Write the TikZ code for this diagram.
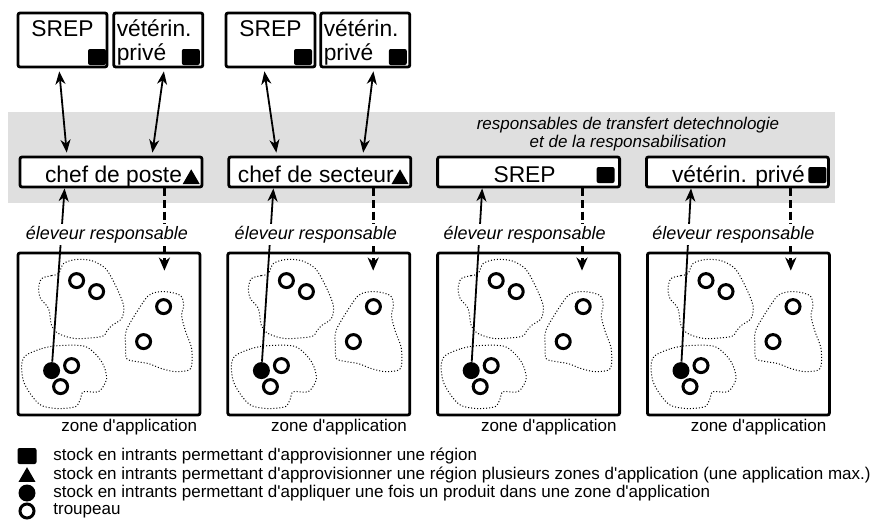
\documentclass[tikz,border=0pt]{standalone}
\usepackage{fontspec}
\setmainfont{Liberation Sans}[Ligatures=TeXOff]
\usepackage{tikz}
\usetikzlibrary{arrows.meta,positioning,shapes.geometric}

\begin{document}
\begin{tikzpicture}[x=0.5pt,y=-0.5pt]
  \edef\sizesym{8.5pt}
  \tikzstyle{box}=[draw,line width=1.4pt,rounded corners=1pt,inner sep=0pt]
  \tikzstyle{topbox}=[box,minimum width=44.5pt,minimum height=27pt]
  \tikzstyle{midbox}=[box,fill=white,minimum width=91pt,minimum height=15pt]
  \tikzstyle{zonebox}=[box,minimum width=91pt,minimum height=81pt]
  \tikzstyle{big}=[font=\fontsize{11.4}{12}\selectfont,inner sep=0pt]
  \tikzstyle{sq}=[fill,rounded corners=1pt,minimum width=9pt,minimum height=8pt,inner sep=0pt]
  \tikzstyle{tri}=[fill,regular polygon,regular polygon sides=3,minimum size=9.8pt,inner sep=0pt]
  \tikzstyle{herd}=[draw,circle,line width=1.5pt,minimum size=7pt,inner sep=0pt]
  \tikzstyle{dot}=[fill,circle,minimum size=\sizesym,inner sep=0pt]
  \tikzstyle{blob}=[densely dotted,line width=0.5pt]
  \tikzstyle{dblarrow}=[line width=0.9pt,{Stealth[length=6.5pt,width=5pt,inset=2pt]}-{Stealth[length=6.5pt,width=5pt,inset=2pt]},shorten <=1.5pt,shorten >=1.5pt]
  \tikzstyle{uparrow}=[line width=0.9pt,-{Stealth[length=6.5pt,width=5pt,inset=2pt]}]
  \tikzstyle{downarrow}=[line width=1.5pt,dash pattern=on 4pt off 1.8pt,-{Stealth[length=6.5pt,width=5.5pt,inset=2pt]}]
  \tikzstyle{elabel}=[fill=white,inner sep=1pt,font=\fontsize{9}{10}\selectfont\itshape]
  \tikzstyle{zlabel}=[anchor=north east,inner sep=1pt,font=\fontsize{8.5}{10}\selectfont]
  \tikzstyle{legtext}=[anchor=west,inner sep=0pt,font=\fontsize{8.5}{10}\selectfont]

  \useasboundingbox (0,0) rectangle (880,530);
  \fill[gray!25] (8,112) rectangle (835,203);
  \node[align=center,font=\fontsize{8.5}{9}\selectfont\itshape] (bandnote) at (628,134)
    {responsables de transfert detechnologie\\et de la responsabilisation};

  \node[topbox] (tb1) at (62.5,40) {};
  \node[topbox,right=2pt of tb1] (tb2) {};
  \node[topbox] (tb3) at (270.5,40) {};
  \node[topbox,right=1.5pt of tb3] (tb4) {};
  \node[big,anchor=north] (tb1txt) at ([yshift=-4.5pt]tb1.north) {SREP};
  \node[big,anchor=north] (tb3txt) at ([yshift=-4.5pt]tb3.north) {SREP};
  \node[big,anchor=north west,align=left] (tb2txt) at ([shift={(4,8)}]tb2.north west) {vétérin.\\privé};
  \node[big,anchor=north west,align=left] (tb4txt) at ([shift={(4,8)}]tb4.north west) {vétérin.\\privé};
  \node[sq,anchor=south east] (tb1sq) at ([shift={(-2,-3)}]tb1.south east) {};
  \node[sq,anchor=south east] (tb2sq) at ([shift={(-4,-3)}]tb2.south east) {};
  \node[sq,anchor=south east] (tb3sq) at ([shift={(-4,-3)}]tb3.south east) {};
  \node[sq,anchor=south east] (tb4sq) at ([shift={(-4,-3)}]tb4.south east) {};

  \node[midbox] (mb1) at (111,172) {};
  \node[midbox,right=12pt of mb1] (mb2) {};
  \node[midbox,right=12pt of mb2] (mb3) {};
  \node[midbox,right=12pt of mb3] (mb4) {};
  \node[tri,anchor=corner 3] (mb1tri) at ([shift={(-3,-4)}]mb1.south east) {};
  \node[tri,anchor=corner 3] (mb2tri) at ([shift={(-3,-4)}]mb2.south east) {};
  \node[sq,anchor=south east] (mb3sq) at ([shift={(-6,-5)}]mb3.south east) {};
  \node[sq,anchor=south east] (mb4sq) at ([shift={(-3,-5)}]mb4.south east) {};
  \node[big,anchor=base east] (mb1txt) at ([shift={(-21,-6)}]mb1.south east) {chef de poste};
  \node[big,anchor=base east] (mb2txt) at ([shift={(-18,-6)}]mb2.south east) {chef de secteur};
  \node[big,anchor=base] (mb3txt) at ([shift={(-4,-6)}]mb3.south) {SREP};
  \node[big,anchor=base] (mb4txt) at ([shift={(1,-6)}]mb4.south) {vétérin. privé};

  \draw[dblarrow] ([xshift=-1.75pt]tb1.south) -- ([xshift=-22pt]mb1.north);
  \draw[dblarrow] ([xshift=3pt]tb2.south) -- ([xshift=20.5pt]mb1.north);
  \draw[dblarrow] ([xshift=-3.25pt]tb3.south) -- ([xshift=-21.5pt]mb2.north);
  \draw[dblarrow] ([xshift=4.25pt]tb4.south) -- ([xshift=21.5pt]mb2.north);

  \node[zonebox] (zone1) at (109,334) {};
  \node[zonebox,right=12.5pt of zone1] (zone2) {};
  \node[zonebox,right=12.5pt of zone2] (zone3) {};
  \node[zonebox,right=12.5pt of zone3] (zone4) {};

  \foreach \i in {1,...,4}{
    \begin{scope}[shift={(zone\i.north west)}]
      \draw[blob] plot[smooth cycle] coordinates {(25,27) (35,24) (42,22) (47,12) (59,8) (75,9) (89,17) (99,34) (107,54) (105,67) (95,74) (90,80) (85,85) (59,87) (42,82) (35,74) (32,57) (24,47) (22,37)};
      \draw[blob] plot[smooth cycle] coordinates {(110,78) (127,50) (135,42) (149,40) (164,44) (167,54) (165,64) (169,80) (175,97) (174,117) (159,120) (145,117) (132,112) (120,110) (110,107) (109,94)};
      \draw[blob] plot[smooth cycle] coordinates {(9,104) (25,97) (42,94) (69,95) (85,110) (90,127) (82,140) (67,140) (64,147) (59,155) (42,157) (25,154) (15,144) (7,130) (5,114)};
      \node[herd] (h\i a) at (60,29) {};
      \node[herd] (h\i b) at (80,40) {};
      \node[herd] (h\i c) at (147,55) {};
      \node[herd] (h\i d) at (127,90) {};
      \node[herd] (h\i e) at (55,114) {};
      \node[herd] (h\i f) at (44,135) {};
      \node[dot] (dot\i) at (35,119) {};
    \end{scope}
    \draw[uparrow] (dot\i) -- ([xshift=23pt]mb\i.south west);
    \coordinate (dtop\i) at ([xshift=-19.5pt]mb\i.south east);
    \coordinate (ztop\i) at ([yshift=-9.5pt]zone\i.north);
    \draw[downarrow] (dtop\i) -- (dtop\i |- ztop\i);
    \node[elabel] (el\i) at ([shift={(-4,46)}]mb\i.south) {éleveur responsable};
    \node[zlabel] (zl\i) at ([xshift=-1pt]zone\i.south east) {zone d'application};
  }

  \node[sq,minimum width=9.5pt] (lsq) at (27,456) {};
  \node[tri] (ltri) at (27,477) {};
  \node[dot] (ldot) at (27,493) {};
  \node[herd] (lherd) at (27,511) {};
  \node[legtext] (lsqtxt) at (53,456) {stock en intrants permettant d'approvisionner une région};
  \node[legtext] (ltritxt) at (53,475) {stock en intrants permettant d'approvisionner une région plusieurs zones d'application (une application max.)};
  \node[legtext] (ldottxt) at (53,493) {stock en intrants permettant d'appliquer une fois un produit dans une zone d'application};
  \node[legtext] (lherdtxt) at (53,511) {troupeau};
\end{tikzpicture}
\end{document}
